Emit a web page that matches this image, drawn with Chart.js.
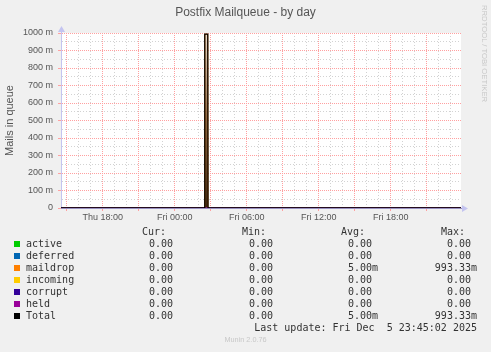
<!DOCTYPE html>
<html>
<head>
<meta charset="utf-8">
<script src="https://cdn.jsdelivr.net/npm/chart.js@4"></script>
<style>
  html, body { margin: 0; padding: 0; background: #f0f0f0; }
  #wrap { position: relative; width: 491px; height: 352px; overflow: hidden; }
  #chart { position: absolute; left: 0; top: 0; }
  .txt { position: absolute; white-space: pre; line-height: 12px; }
  .mono { font: 10px 'DejaVu Sans Mono', monospace; color: #333; }
  .swatch { position: absolute; width: 6px; height: 6px; }
  #title { position: absolute; left: 0; width: 491px; top: 4px; text-align: center;
           font: 12px 'Liberation Sans', Arial, sans-serif; color: #555; line-height: 16px; }
  #rrd { position: absolute; left: 480px; top: 5px; writing-mode: vertical-rl;
         font: 7.7px 'Liberation Sans', Arial, sans-serif; color: #c8c8c8; }
  #munin { position: absolute; left: 0; width: 491px; top: 335px; text-align: center;
           font: 7.3px 'Liberation Sans', Arial, sans-serif; color: #c8c8c8; line-height: 10px; }
</style>
</head>
<body>
<div id="wrap">
  <canvas id="chart" width="491" height="352"></canvas>
  <div id="title">Postfix Mailqueue - by day</div>
  <div id="rrd">RRDTOOL / TOBI OETIKER</div>
  <div id="legend"></div>
  <div id="munin">Munin 2.0.76</div>
</div>
<script>
// series and legend numbers
const seriesNames  = ['active', 'deferred', 'maildrop', 'incoming', 'corrupt', 'held', 'Total'];
const seriesColors = ['#00cc00', '#0066b3', '#ff8000', '#ffcc00', '#330099', '#990099', '#000000'];
const curValues = ['0.00 ', '0.00 ', '0.00 ', '0.00 ', '0.00 ', '0.00 ', '0.00 '];
const minValues = ['0.00 ', '0.00 ', '0.00 ', '0.00 ', '0.00 ', '0.00 ', '0.00 '];
const avgValues = ['0.00 ', '0.00 ', '5.00m', '0.00 ', '0.00 ', '0.00 ', '5.00m'];
const maxValues = ['0.00 ', '0.00 ', '993.33m', '0.00 ', '0.00 ', '0.00 ', '993.33m'];
const lastUpdate = 'Last update: Fri Dec  5 23:45:02 2025';

// samples, hours counted from Thu 00:00
const sampleHours   = [14.53, 26.49, 26.51, 26.76, 26.78, 47.86];
const activeQueue   = [0, 0, 0, 0, 0, 0];
const deferredQueue = [0, 0, 0, 0, 0, 0];
const maildropQueue = [0, 0, 0.99333, 0.99333, 0, 0];
const incomingQueue = [0, 0, 0, 0, 0, 0];
const corruptQueue  = [0, 0, 0, 0, 0, 0];
const heldQueue     = [0, 0, 0, 0, 0, 0];

// axes
const xMin = 14.53, xMax = 47.86;
const xTickHours  = [18, 24, 30, 36, 42];
const xTickLabels = ['Thu 18:00', 'Fri 00:00', 'Fri 06:00', 'Fri 12:00', 'Fri 18:00'];
const yTickLabels = ['0', '100 m', '200 m', '300 m', '400 m', '500 m', '600 m', '700 m', '800 m', '900 m', '1000 m'];

const queues = [activeQueue, deferredQueue, maildropQueue, incomingQueue, corruptQueue, heldQueue];
const totalQueue = sampleHours.map((_, i) => queues.reduce((s, q) => s + q[i], 0));

const hourGrid = [];
for (let h = Math.ceil(xMin); h <= xMax; h++) hourGrid.push(h);
const yGrid = [];
for (let i = 0; i <= 20; i++) yGrid.push(i / 20);

const RED = '#ffa0a0', GREY = '#d2d2d2';
const xMajor = v => v % 3 === 0;
const yMajor = v => Math.round(v * 20) % 2 === 0;

function spikeFill(ctx) {
  const a = ctx.chart.chartArea;
  if (!a) return '#8b6540';
  const g = ctx.chart.ctx.createLinearGradient(0, a.top, 0, a.bottom);
  g.addColorStop(0, '#eadccc');
  g.addColorStop(0.5, '#8b6540');
  g.addColorStop(1, '#3a2612');
  return g;
}

const datasets = seriesNames.map((name, k) => {
  const vals = k < queues.length ? queues[k] : totalQueue;
  return {
    label: name,
    data: sampleHours.map((h, i) => ({ x: h, y: vals[i] })),
    borderColor: seriesColors[k],
    backgroundColor: name === 'maildrop' ? spikeFill : seriesColors[k],
    fill: name === 'maildrop' ? 'origin' : false,
    borderWidth: name === 'Total' ? 1.3 : 1,
    pointRadius: 0,
    tension: 0,
    order: seriesNames.length - 1 - k
  };
});

const frame = {
  id: 'frame',
  beforeDraw(chart) {
    const { ctx, chartArea: a } = chart;
    ctx.save();
    ctx.fillStyle = '#ffffff';
    ctx.fillRect(a.left, a.top, a.right - a.left, a.bottom - a.top);
    ctx.restore();
  },
  afterDraw(chart) {
    const { ctx, chartArea: a } = chart;
    ctx.save();
    ctx.fillStyle = '#c4c4f0';
    ctx.strokeStyle = '#c4c4f0';
    ctx.lineWidth = 1;
    // y arrow
    ctx.beginPath();
    ctx.moveTo(a.left + 0.5, a.top);
    ctx.lineTo(a.left + 0.5, a.top - 3);
    ctx.stroke();
    ctx.beginPath();
    ctx.moveTo(a.left - 3, a.top - 1);
    ctx.lineTo(a.left + 4, a.top - 1);
    ctx.lineTo(a.left + 0.5, a.top - 7);
    ctx.closePath();
    ctx.fill();
    // x arrow
    ctx.beginPath();
    ctx.moveTo(a.right + 1, a.bottom - 3);
    ctx.lineTo(a.right + 1, a.bottom + 4);
    ctx.lineTo(a.right + 7, a.bottom + 0.5);
    ctx.closePath();
    ctx.fill();
    ctx.restore();
  }
};

const tickFont = { family: 'Liberation Sans', size: 9 };

new Chart(document.getElementById('chart'), {
  type: 'line',
  data: { datasets },
  plugins: [frame],
  options: {
    responsive: false,
    devicePixelRatio: 1,
    animation: false,
    layout: { padding: { left: 0, top: 33, right: 30, bottom: 0 } },
    plugins: { legend: { display: false }, tooltip: { enabled: false } },
    scales: {
      x: {
        type: 'linear',
        min: xMin,
        max: xMax,
        afterBuildTicks: s => { s.ticks = hourGrid.map(v => ({ value: v })); },
        afterFit: s => { s.height = 144; },
        grid: {
          color: c => xMajor(c.tick.value) ? RED : GREY,
          tickColor: c => xMajor(c.tick.value) ? RED : 'rgba(0,0,0,0)',
          tickLength: 3,
          lineWidth: 1
        },
        border: {
          color: '#9890c0',
          z: 1,
          dash: c => c.tick ? (xMajor(c.tick.value) ? [1, 1] : [1, 2]) : []
        },
        ticks: {
          autoSkip: false,
          maxRotation: 0,
          padding: 1,
          color: '#555',
          font: tickFont,
          callback: v => {
            const i = xTickHours.indexOf(v);
            return i >= 0 ? xTickLabels[i] : '';
          }
        }
      },
      y: {
        min: 0,
        max: 1,
        afterBuildTicks: s => { s.ticks = yGrid.map(v => ({ value: v })); },
        afterFit: s => { s.width = 61; },
        grid: {
          color: c => yMajor(c.tick.value) ? RED : GREY,
          tickColor: c => yMajor(c.tick.value) ? RED : 'rgba(0,0,0,0)',
          tickLength: 3,
          lineWidth: 1
        },
        border: {
          color: '#c4c4f0',
          dash: c => c.tick ? (yMajor(c.tick.value) ? [1, 1] : [1, 2]) : []
        },
        ticks: {
          autoSkip: false,
          padding: 5,
          color: '#555',
          font: tickFont,
          callback: v => yMajor(v) ? yTickLabels[Math.round(v * 10)] : ''
        },
        title: {
          display: true,
          text: 'Mails in queue',
          color: '#555',
          font: { family: 'Liberation Sans', size: 11 },
          padding: { top: 3, bottom: 0 }
        }
      }
    }
  }
});

// legend table below the graph
const legend = document.getElementById('legend');
const rowTop = k => 226 + 12 * k;
const valueRight = [179, 279, 378, 477];
const headRight = [166, 266, 365, 465];
const heads = ['Cur:', 'Min:', 'Avg:', 'Max:'];

function putText(text, top, right, left) {
  const d = document.createElement('div');
  d.className = 'txt mono';
  d.textContent = text;
  d.style.top = top + 'px';
  if (left !== undefined) d.style.left = left + 'px';
  else d.style.right = (491 - right) + 'px';
  legend.appendChild(d);
}

heads.forEach((h, c) => putText(h, rowTop(0), headRight[c]));
seriesNames.forEach((name, k) => {
  const top = rowTop(k + 1);
  const sw = document.createElement('div');
  sw.className = 'swatch';
  sw.style.left = '14px';
  sw.style.top = (top + 3) + 'px';
  sw.style.background = seriesColors[k];
  legend.appendChild(sw);
  putText(name, top, 0, 26);
  [curValues, minValues, avgValues, maxValues].forEach((col, c) => putText(col[k], top, valueRight[c]));
});
putText(lastUpdate, rowTop(8), 477);
</script>
</body>
</html>
